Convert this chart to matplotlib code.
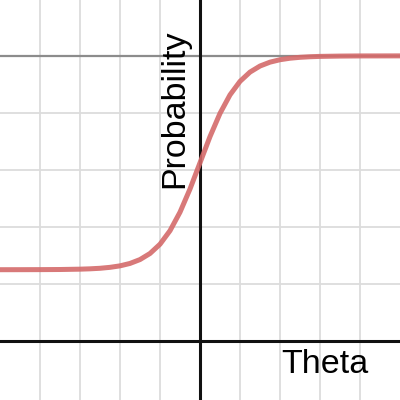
import matplotlib
matplotlib.use("Agg")
import matplotlib.pyplot as plt

# Values (theta, probability)
theta = [-5.0, -4.5, -4.0, -3.5, -3.0, -2.75, -2.5, -2.25, -2.0, -1.75, -1.5, -1.25,
         -1.0, -0.75, -0.5, -0.25, 0.0, 0.25, 0.5, 0.75, 1.0, 1.25, 1.5, 1.75,
         2.0, 2.25, 2.5, 2.75, 3.0, 3.5, 4.0, 4.5, 5.0]
probability = [0.2500, 0.2501, 0.2503, 0.2507, 0.2519, 0.2531, 0.2550, 0.2583, 0.2635,
               0.2720, 0.2856, 0.3069, 0.3394, 0.3868, 0.4517, 0.5331, 0.6250, 0.7169,
               0.7983, 0.8632, 0.9106, 0.9431, 0.9644, 0.9780, 0.9865, 0.9918, 0.9950,
               0.9970, 0.9982, 0.9993, 0.9998, 0.9999, 1.0000]
asymptote = 1.0
x_grid = [-4, -3, -2, -1, 1, 2, 3, 4]
y_grid = [0.2, 0.4, 0.6, 0.8]
x_label = "Theta"
y_label = "Probability"

fig = plt.figure(figsize=(4, 4), dpi=100)
ax = fig.add_axes([0, 0, 1, 1])
ax.set_xlim(-5, 5)
ax.set_ylim(-0.207, 1.196)
ax.axis("off")

for gx in x_grid:
    ax.axvline(gx, color="#dcdcdc", lw=1.3, zorder=1)
for gy in y_grid:
    ax.axhline(gy, color="#dcdcdc", lw=1.3, zorder=1)

ax.axhline(asymptote, color="#8c8c8c", lw=1.6, zorder=2)
ax.axhline(0, color="#111111", lw=2.2, zorder=3)
ax.axvline(0, color="#111111", lw=2.2, zorder=3)

ax.plot(theta, probability, color="#d46a6a", lw=3.6, alpha=0.9,
        solid_capstyle="round", zorder=4)

ax.text(4.2, -0.028, x_label, fontsize=24.5, family="Liberation Sans",
        ha="right", va="top", color="#000000", zorder=5)
ax.text(-0.63, 0.815, y_label, fontsize=24.5, family="Liberation Sans",
        rotation=90, ha="center", va="center", color="#000000", zorder=5)

fig.savefig("out.png", dpi=100)
